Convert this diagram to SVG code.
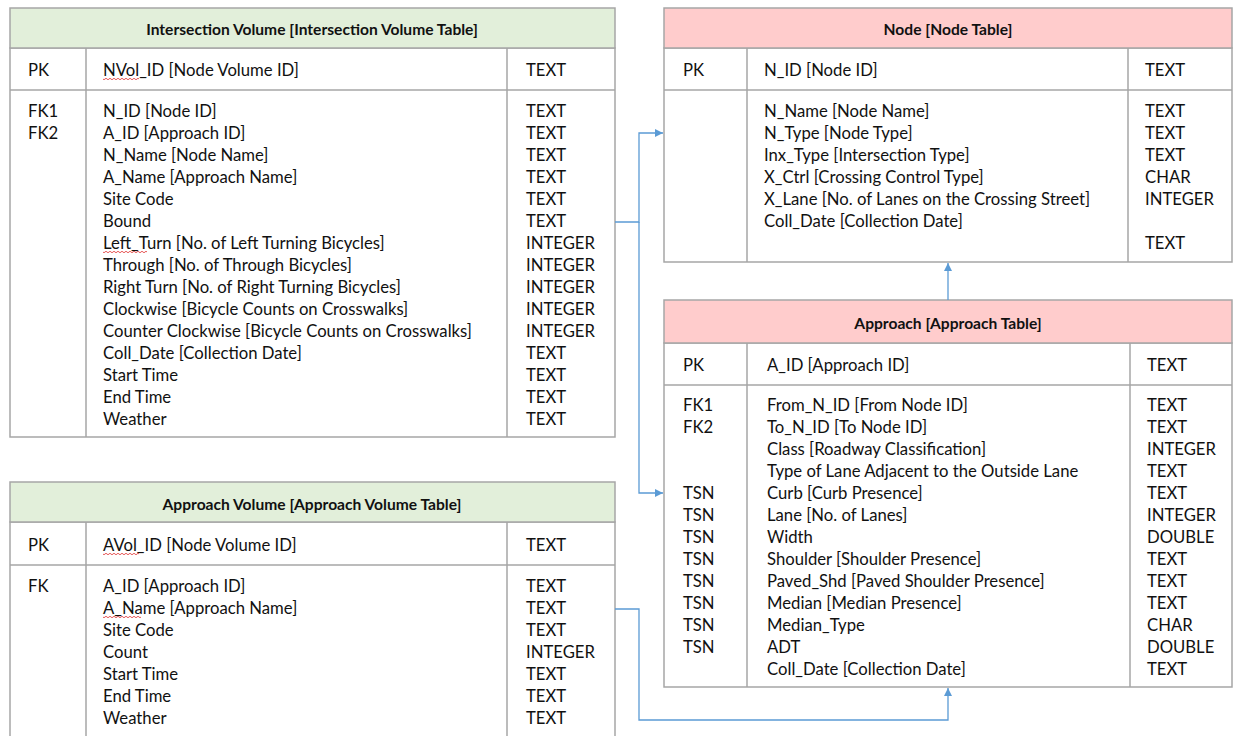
<svg xmlns="http://www.w3.org/2000/svg" width="1235" height="736" viewBox="0 0 1235 736">
  <style>
    .frame { fill: #ffffff; stroke: #a6a6a6; stroke-width: 1.5; }
    .hdr-green { fill: #e2efda; stroke: #a6a6a6; stroke-width: 1.5; }
    .hdr-pink { fill: #ffcccc; stroke: #a6a6a6; stroke-width: 1.5; }
    .div { stroke: #a6a6a6; stroke-width: 1.5; fill: none; }
    text { font-family: Lato, "Liberation Sans", sans-serif; font-size: 16.7px; fill: #111111; dominant-baseline: central; }
    .title { font-weight: bold; font-size: 15.6px; text-anchor: middle; }
    .link { stroke: #5b9bd5; stroke-width: 1.3; fill: none; }
    .squig { stroke: #e03030; stroke-width: 0.8; fill: none; }
  </style>
  <defs>
    <marker id="arrow" viewBox="0 0 10 10" refX="10" refY="5" markerWidth="8" markerHeight="8" markerUnits="userSpaceOnUse" orient="auto">
      <path d="M0,0 L10,5 L0,10 z" fill="#5b9bd5"/>
    </marker>
  </defs>

  <!-- Intersection Volume table -->
  <g id="intersection-volume">
    <rect class="frame" x="10" y="48" width="605" height="389"/>
    <rect class="hdr-green" x="10" y="8" width="605" height="40"/>
    <line class="div" x1="10" y1="90" x2="615" y2="90"/>
    <line class="div" x1="86" y1="48" x2="86" y2="437"/>
    <line class="div" x1="507" y1="48" x2="507" y2="437"/>
    <text class="title" x="312" y="29">Intersection Volume [Intersection Volume Table]</text>
    <text x="28" y="70">PK</text>
    <text x="103" y="70">NVol_ID [Node Volume ID]</text>
    <text x="526" y="70">TEXT</text>
    <path class="squig" d="M103,79 q1,1.5 2,0 t2,0 t2,0 t2,0 t2,0 t2,0 t2,0 t2,0 t2,0 t2,0 t2,0 t2,0 t2,0 t2,0 t2,0 t2,0 t2,0 t2,0"/>
    <text x="28" y="111">FK1</text>
    <text x="28" y="133">FK2</text>
    <g>
      <text x="103" y="111">N_ID [Node ID]</text>
      <text x="103" y="133">A_ID [Approach ID]</text>
      <text x="103" y="155">N_Name [Node Name]</text>
      <text x="103" y="177">A_Name [Approach Name]</text>
      <text x="103" y="199">Site Code</text>
      <text x="103" y="221">Bound</text>
      <text x="103" y="243">Left_Turn [No. of Left Turning Bicycles]</text>
      <text x="103" y="265">Through [No. of Through Bicycles]</text>
      <text x="103" y="287">Right Turn [No. of Right Turning Bicycles]</text>
      <text x="103" y="309">Clockwise [Bicycle Counts on Crosswalks]</text>
      <text x="103" y="331">Counter Clockwise [Bicycle Counts on Crosswalks]</text>
      <text x="103" y="353">Coll_Date [Collection Date]</text>
      <text x="103" y="375">Start Time</text>
      <text x="103" y="397">End Time</text>
      <text x="103" y="419">Weather</text>
    </g>
    <path class="squig" d="M103,252 q1,1.5 2,0 t2,0 t2,0 t2,0 t2,0 t2,0 t2,0 t2,0 t2,0 t2,0 t2,0 t2,0 t2,0 t2,0 t2,0 t2,0 t2,0 t2,0 t2,0 t2,0 t2,0 t2,0"/>
    <g>
      <text x="526" y="111">TEXT</text>
      <text x="526" y="133">TEXT</text>
      <text x="526" y="155">TEXT</text>
      <text x="526" y="177">TEXT</text>
      <text x="526" y="199">TEXT</text>
      <text x="526" y="221">TEXT</text>
      <text x="526" y="243">INTEGER</text>
      <text x="526" y="265">INTEGER</text>
      <text x="526" y="287">INTEGER</text>
      <text x="526" y="309">INTEGER</text>
      <text x="526" y="331">INTEGER</text>
      <text x="526" y="353">TEXT</text>
      <text x="526" y="375">TEXT</text>
      <text x="526" y="397">TEXT</text>
      <text x="526" y="419">TEXT</text>
    </g>
  </g>

  <!-- Approach Volume table -->
  <g id="approach-volume">
    <rect class="frame" x="10" y="522" width="605" height="230"/>
    <rect class="hdr-green" x="10" y="482" width="605" height="40"/>
    <line class="div" x1="10" y1="565" x2="615" y2="565"/>
    <line class="div" x1="86" y1="522" x2="86" y2="740"/>
    <line class="div" x1="507" y1="522" x2="507" y2="740"/>
    <text class="title" x="312" y="504">Approach Volume [Approach Volume Table]</text>
    <text x="28" y="545">PK</text>
    <text x="103" y="545">AVol_ID [Node Volume ID]</text>
    <text x="526" y="545">TEXT</text>
    <path class="squig" d="M103,554 q1,1.5 2,0 t2,0 t2,0 t2,0 t2,0 t2,0 t2,0 t2,0 t2,0 t2,0 t2,0 t2,0 t2,0 t2,0 t2,0 t2,0 t2,0 t2,0"/>
    <text x="28" y="586">FK</text>
    <text x="103" y="586">A_ID [Approach ID]</text>
    <text x="103" y="608">A_Name [Approach Name]</text>
    <path class="squig" d="M103,617 q1,1.5 2,0 t2,0 t2,0 t2,0 t2,0 t2,0 t2,0 t2,0 t2,0 t2,0 t2,0 t2,0 t2,0 t2,0 t2,0 t2,0 t2,0 t2,0 t2,0"/>
    <text x="103" y="630">Site Code</text>
    <text x="103" y="652">Count</text>
    <text x="103" y="674">Start Time</text>
    <text x="103" y="696">End Time</text>
    <text x="103" y="718">Weather</text>
    <text x="526" y="586">TEXT</text>
    <text x="526" y="608">TEXT</text>
    <text x="526" y="630">TEXT</text>
    <text x="526" y="652">INTEGER</text>
    <text x="526" y="674">TEXT</text>
    <text x="526" y="696">TEXT</text>
    <text x="526" y="718">TEXT</text>
  </g>

  <!-- Node table -->
  <g id="node">
    <rect class="frame" x="664" y="48" width="568" height="214"/>
    <rect class="hdr-pink" x="664" y="8" width="568" height="40"/>
    <line class="div" x1="664" y1="90" x2="1232" y2="90"/>
    <line class="div" x1="747" y1="48" x2="747" y2="262"/>
    <line class="div" x1="1128" y1="48" x2="1128" y2="262"/>
    <text class="title" x="948" y="29">Node [Node Table]</text>
    <text x="683" y="70">PK</text>
    <text x="764" y="70">N_ID [Node ID]</text>
    <text x="1145" y="70">TEXT</text>
    <text x="764" y="111">N_Name [Node Name]</text>
    <text x="764" y="133">N_Type [Node Type]</text>
    <text x="764" y="155">Inx_Type [Intersection Type]</text>
    <text x="764" y="177">X_Ctrl [Crossing Control Type]</text>
    <text x="764" y="199">X_Lane [No. of Lanes on the Crossing Street]</text>
    <text x="764" y="221">Coll_Date [Collection Date]</text>
    <text x="1145" y="111">TEXT</text>
    <text x="1145" y="133">TEXT</text>
    <text x="1145" y="155">TEXT</text>
    <text x="1145" y="177">CHAR</text>
    <text x="1145" y="199">INTEGER</text>
    <text x="1145" y="243">TEXT</text>
  </g>

  <!-- Approach table -->
  <g id="approach">
    <rect class="frame" x="664" y="343" width="568" height="344"/>
    <rect class="hdr-pink" x="664" y="300" width="568" height="43"/>
    <line class="div" x1="664" y1="385" x2="1232" y2="385"/>
    <line class="div" x1="747" y1="343" x2="747" y2="687"/>
    <line class="div" x1="1130" y1="343" x2="1130" y2="687"/>
    <text class="title" x="948" y="323">Approach [Approach Table]</text>
    <text x="683" y="365">PK</text>
    <text x="767" y="365">A_ID [Approach ID]</text>
    <text x="1147" y="365">TEXT</text>
    <text x="683" y="405">FK1</text>
    <text x="683" y="427">FK2</text>
    <text x="683" y="493">TSN</text>
    <text x="683" y="515">TSN</text>
    <text x="683" y="537">TSN</text>
    <text x="683" y="559">TSN</text>
    <text x="683" y="581">TSN</text>
    <text x="683" y="603">TSN</text>
    <text x="683" y="625">TSN</text>
    <text x="683" y="647">TSN</text>
    <text x="767" y="405">From_N_ID [From Node ID]</text>
    <text x="767" y="427">To_N_ID [To Node ID]</text>
    <text x="767" y="449">Class [Roadway Classification]</text>
    <text x="767" y="471">Type of Lane Adjacent to the Outside Lane</text>
    <text x="767" y="493">Curb [Curb Presence]</text>
    <text x="767" y="515">Lane [No. of Lanes]</text>
    <text x="767" y="537">Width</text>
    <text x="767" y="559">Shoulder [Shoulder Presence]</text>
    <text x="767" y="581">Paved_Shd [Paved Shoulder Presence]</text>
    <text x="767" y="603">Median [Median Presence]</text>
    <text x="767" y="625">Median_Type</text>
    <text x="767" y="647">ADT</text>
    <text x="767" y="669">Coll_Date [Collection Date]</text>
    <text x="1147" y="405">TEXT</text>
    <text x="1147" y="427">TEXT</text>
    <text x="1147" y="449">INTEGER</text>
    <text x="1147" y="471">TEXT</text>
    <text x="1147" y="493">TEXT</text>
    <text x="1147" y="515">INTEGER</text>
    <text x="1147" y="537">DOUBLE</text>
    <text x="1147" y="559">TEXT</text>
    <text x="1147" y="581">TEXT</text>
    <text x="1147" y="603">TEXT</text>
    <text x="1147" y="625">CHAR</text>
    <text x="1147" y="647">DOUBLE</text>
    <text x="1147" y="669">TEXT</text>
  </g>

  <!-- Relationships -->
  <g id="connectors">
    <path class="link" d="M615,222 H639 V133 H663" marker-end="url(#arrow)"/>
    <path class="link" d="M639,222 V493 H663" marker-end="url(#arrow)"/>
    <path class="link" d="M948,300 V263" marker-end="url(#arrow)"/>
    <path class="link" d="M615,609 H639 V720 H948 V688" marker-end="url(#arrow)"/>
  </g>
</svg>
